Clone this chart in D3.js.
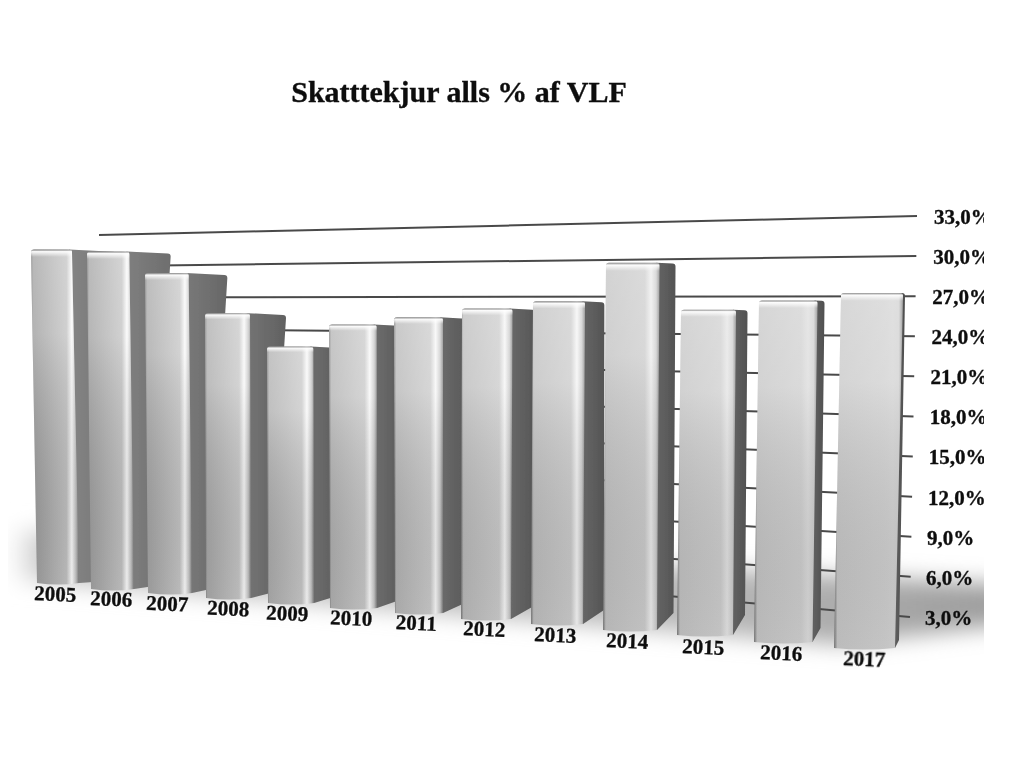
<!DOCTYPE html>
<html>
<head>
    <meta charset="utf-8">
    <title>Skatttekjur alls % af VLF</title>
    <style>
        html, body { margin: 0; padding: 0; background: #fff; overflow: hidden; }
        svg { display: block; }
        text { font-family: 'Liberation Serif', serif; font-weight: bold; fill: #111; stroke: #111; stroke-width: 0.35px; }
    </style>
</head>
<body>
<script src="https://d3js.org/d3.v7.min.js"></script>
<script type="text/javascript">

var title = "Skatttekjur alls % af VLF";
var years = ["2005","2006","2007","2008","2009","2010","2011","2012","2013","2014","2015","2016","2017"];
var values = [24.7, 25.0, 23.7, 21.1, 19.0, 21.0, 21.9, 23.0, 23.9, 27.2, 24.1, 25.3, 26.3];
var yTicks = [3, 6, 9, 12, 15, 18, 21, 24, 27, 30, 33];
var yTickLabels = ["3,0%","6,0%","9,0%","12,0%","15,0%","18,0%","21,0%","24,0%","27,0%","30,0%","33,0%"];

var width = 1024, height = 768;
var slots = d3.range(13);

// the picture is a skewed 3D chart, so every position is a scale over the bar index
var topLeft     = d3.scaleLinear().domain(slots).range([31,87,145,205,267,329,394,462,533,606,681,759,841]);
var topWidth    = d3.scaleLinear().domain([0,6,10,12]).range([41,49,55,62]);
var bottomLeft  = d3.scaleLinear().domain(slots).range([37,91,148,206,268,330,395,461,531,603,677,754,834]);
var bottomWidth = d3.scaleLinear().domain([0,6,10,12]).range([42,48,56,61]);
var base        = d3.scaleLinear().domain(slots).range([583,589,593,598,603,608,613,619,624,630,635,642,648]);
var sideTop     = d3.scaleLinear().domain([0,3,9,11,12]).range([44,36,16,7,2]);
var sideBottom  = d3.scaleLinear().domain([0,1,5,8,10,12]).range([14,15,20,21,12,4]);
var sideRise    = d3.scaleLinear().domain([0,5,8,10,12]).range([1,7,14,20,8]);
var barHeight   = d3.scaleLinear().domain([0,33]).range([0,445.5]);
var labelX      = d3.scaleLinear().domain(slots).range([55,111,167,228,287,351,416,484,555,627,703,781,864]);
var labelY      = d3.scaleLinear().domain([0,6,12]).range([594,623,659]);

// back wall, its height changes from left to right
var wallLeft  = d3.scaleLinear().domain([0,33]).range([578,235]);
var wallRight = d3.scaleLinear().domain([0,33]).range([657,216]);
var wallEnd   = d3.scaleLinear().domain([3,33]).range([910,917]);
var tickX     = d3.scaleLinear().domain([3,12,33]).range([925,928,934]);

var lowColor  = d3.scaleLinear().domain([0,9,12]).range(["#9a9a9a","#c0c0c0","#c6c6c6"]);
var midColor  = d3.scaleLinear().domain([0,12]).range(["#c0c0c0","#cfcfcf"]);
var hiColor   = d3.scaleLinear().domain([0,8,12]).range(["#fbfbfb","#f4f4f4","#d2d2d2"]);
var sideColor = d3.scaleLinear().domain([0,4,12]).range(["#747474","#5a5a5a","#4e4e4e"]);

var svg = d3.select("body").append("svg")
    .attr("width", width)
    .attr("height", height);

var defs = svg.append("defs");

defs.append("clipPath").attr("id", "frame")
    .append("rect").attr("x", 8).attr("y", 0).attr("width", 976).attr("height", height);

defs.append("filter").attr("id", "soft")
    .append("feGaussianBlur").attr("stdDeviation", 0.7);

defs.append("filter").attr("id", "floorBlur")
    .attr("x", "-10%").attr("y", "-40%").attr("width", "120%").attr("height", "180%")
    .append("feGaussianBlur").attr("stdDeviation", 11);

var floorGrad = defs.append("linearGradient").attr("id", "floorGrad");
floorGrad.append("stop").attr("offset", 0).attr("stop-color", "#fff");
floorGrad.append("stop").attr("offset", 0.02).attr("stop-color", "#fff");
floorGrad.append("stop").attr("offset", 0.055).attr("stop-color", "#c4c4c4");
floorGrad.append("stop").attr("offset", 0.7).attr("stop-color", "#b8b8b8");
floorGrad.append("stop").attr("offset", 1).attr("stop-color", "#9c9c9c");

// light from the top of a bar, a little darker at its foot
var shade = defs.append("linearGradient").attr("id", "shade").attr("x1", 0).attr("x2", 0).attr("y1", 0).attr("y2", 1);
shade.append("stop").attr("offset", 0).attr("stop-color", "#777").attr("stop-opacity", 0.7);
shade.append("stop").attr("offset", 0.006).attr("stop-color", "#fff").attr("stop-opacity", 0.95);
shade.append("stop").attr("offset", 0.022).attr("stop-color", "#fff").attr("stop-opacity", 0.3);
shade.append("stop").attr("offset", 0.25).attr("stop-color", "#fff").attr("stop-opacity", 0.25);
shade.append("stop").attr("offset", 1).attr("stop-color", "#000").attr("stop-opacity", 0.05);

var sideShade = defs.append("linearGradient").attr("id", "sideShade");
sideShade.append("stop").attr("offset", 0).attr("stop-color", "#fff").attr("stop-opacity", 0.12);
sideShade.append("stop").attr("offset", 1).attr("stop-color", "#fff").attr("stop-opacity", 0);

years.forEach(function(y, i) {
    var g = defs.append("linearGradient").attr("id", "front" + i);
    var stops = [
        [0, "#777"],
        [0.05, lowColor(i)],
        [0.74, midColor(i)],
        [0.85, hiColor(i)],
        [0.94, midColor(i)],
        [1, "#7c7c7c"]
    ];
    stops.forEach(function(s) {
        g.append("stop").attr("offset", s[0]).attr("stop-color", s[1]);
    });
});

var plot = svg.append("g").attr("clip-path", "url(#frame)");

// floor shadow
plot.append("path")
    .attr("d", "M-10,528 L1010,585 L1010,624 L840,644 L500,618 L-10,578 Z")
    .attr("fill", "url(#floorGrad)")
    .attr("filter", "url(#floorBlur)");

var chart = plot.append("g").attr("filter", "url(#soft)");

// grid lines on the back wall
chart.selectAll(".grid")
    .data(yTicks)
    .enter().append("line")
    .attr("class", "grid")
    .attr("x1", 99)
    .attr("y1", function(d) { return wallLeft(d); })
    .attr("x2", function(d) { return wallEnd(d); })
    .attr("y2", function(d) { return wallRight(d); })
    .style("stroke", "#4a4a4a")
    .style("stroke-width", "2px");

var bars = chart.selectAll(".bar")
    .data(values)
    .enter().append("g")
    .attr("class", "bar");

function topY(d, i) { return base(i) - barHeight(d); }

function sidePath(d, i) {
    var r = 3;
    var xa = topLeft(i) + topWidth(i), xb = xa + sideTop(i);
    var xc = bottomLeft(i) + bottomWidth(i), xd = xc + sideBottom(i);
    var t = topY(d, i), tEnd = t + sideTop(i) * 0.05;
    return "M" + (xa - 3) + "," + t + " L" + (xb - r) + "," + tEnd +
        " Q" + xb + "," + tEnd + " " + xb + "," + (tEnd + r) +
        " L" + xd + "," + (base(i) - sideRise(i)) +
        " L" + xc + "," + base(i) +
        " L" + (xc - 3) + "," + base(i) + " Z";
}

function frontPath(d, i) {
    var r = 3;
    var xa = topLeft(i), xb = xa + topWidth(i);
    var xc = bottomLeft(i) + bottomWidth(i), xd = bottomLeft(i);
    var t = topY(d, i), b = base(i);
    return "M" + xd + "," + b + " L" + xa + "," + (t + r) +
        " Q" + xa + "," + t + " " + (xa + r) + "," + t +
        " L" + (xb - r) + "," + t +
        " Q" + xb + "," + t + " " + xb + "," + (t + r) +
        " L" + xc + "," + b +
        " Q" + ((xc + xd) / 2) + "," + (b + 3) + " " + xd + "," + b + " Z";
}

bars.append("path")
    .attr("d", sidePath)
    .attr("fill", function(d, i) { return sideColor(i); });

bars.append("path")
    .attr("d", sidePath)
    .attr("fill", "url(#sideShade)");

bars.append("path")
    .attr("d", frontPath)
    .attr("fill", function(d, i) { return "url(#front" + i + ")"; });

bars.append("path")
    .attr("d", frontPath)
    .attr("fill", "url(#shade)");

var labels = plot.append("g").attr("filter", "url(#soft)");

// year labels follow the tilt of the floor
labels.selectAll(".year")
    .data(years)
    .enter().append("text")
    .attr("class", "year")
    .attr("text-anchor", "middle")
    .attr("font-size", "21px")
    .attr("transform", function(d, i) {
        return "translate(" + labelX(i) + "," + (labelY(i) + 7) + ") rotate(2.5)";
    })
    .text(function(d) { return d; });

// value axis, the labels step to the left going down
var yAxis = d3.scaleLinear().domain([3,33]).range([617,216]);

var axis = labels.append("g")
    .call(d3.axisRight(yAxis)
        .tickValues(yTicks)
        .tickSize(0)
        .tickFormat(function(d, i) { return yTickLabels[i]; }));

axis.select(".domain").remove();
axis.selectAll("text")
    .attr("x", function(d) { return tickX(d); })
    .attr("dy", "0.35em")
    .attr("font-size", "21px")
    .attr("font-family", null)
    .style("text-anchor", "start");

svg.append("text")
    .attr("x", 459)
    .attr("y", 102)
    .attr("text-anchor", "middle")
    .attr("font-size", "30px")
    .attr("filter", "url(#soft)")
    .text(title);

</script>
</body>
</html>
